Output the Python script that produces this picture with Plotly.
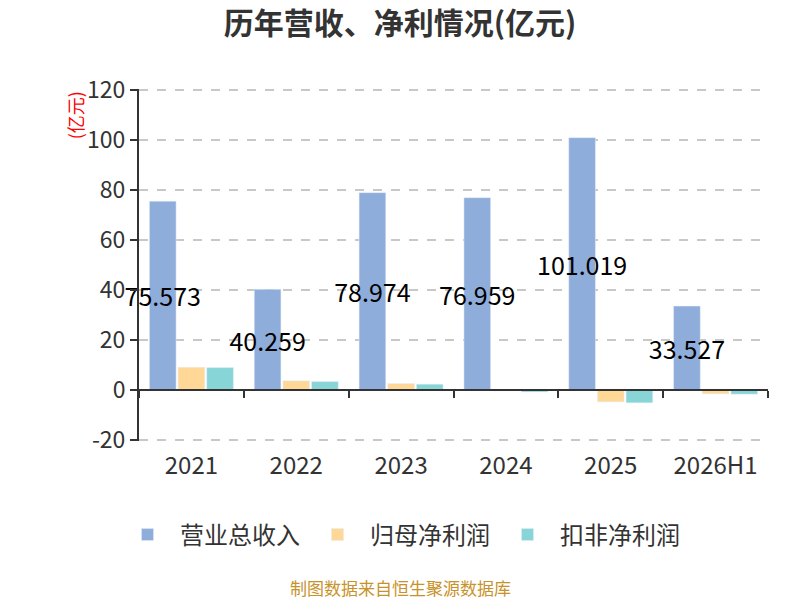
import plotly.graph_objects as go

years = ['2021', '2022', '2023', '2024', '2025', '2026H1']
revenue = [75.573, 40.259, 78.974, 76.959, 101.019, 33.527]
net_profit = [9.05, 3.6, 2.5, -0.45, -4.8, -1.6]
net_profit_deducted = [8.9, 3.3, 2.25, -0.85, -5.2, -1.75]
y_ticks = [-20, 0, 20, 40, 60, 80, 100, 120]
y_tick_text = ['-20', '0', '20', '40', '60', '80', '100', '120']

rev_color = '#8EADDB'
np_color = '#FFD796'
npd_color = '#88D5D8'
font_cjk = 'Noto Sans CJK SC'

# plot area: x 139..768, y (-20 at 440, 120 at 90), range padded so the edge gridlines show
y_lo, y_hi = -20.5, 120.5
px_per = 2.5
top = 90 - (y_hi - 120) * px_per
bottom = 440 + (-20 - y_lo) * px_per
plot_h = bottom - top

fig = go.Figure()
fig.add_trace(go.Bar(x=years, y=revenue, name='营业总收入', marker=dict(color=rev_color),
                     text=[f'{v:.3f}' for v in revenue], textposition='inside',
                     insidetextanchor='middle', textangle=0, constraintext='none',
                     cliponaxis=False, textfont=dict(size=25, color='#000')))
fig.add_trace(go.Bar(x=years, y=net_profit, name='归母净利润', marker=dict(color=np_color)))
fig.add_trace(go.Bar(x=years, y=net_profit_deducted, name='扣非净利润', marker=dict(color=npd_color)))
# invisible trace carrying the bottom category labels
fig.add_trace(go.Scatter(x=years, y=[0] * len(years), xaxis='x2', mode='markers',
                         marker=dict(opacity=0), showlegend=False, hoverinfo='skip'))

fig.update_layout(
    width=800, height=600,
    margin=dict(l=139, r=32, t=top, b=600 - bottom, autoexpand=False),
    plot_bgcolor='white', paper_bgcolor='white',
    font=dict(family=font_cjk, color='#333'),
    barmode='group', bargap=0.18, bargroupgap=0.07,
    title=dict(text='<b>历年营收、净利情况(亿元)</b>', x=0.5, xref='container', xanchor='center',
               y=1 - 23 / 600, yanchor='middle', font=dict(size=30, color='#333')),
    xaxis=dict(type='category', categoryorder='array', categoryarray=years, range=[-0.5, 5.5],
               anchor='free', position=(0 - y_lo) / (y_hi - y_lo), showline=True, linecolor='#333',
               linewidth=1.5, ticks='outside', tickson='boundaries', ticklen=7, tickwidth=2,
               tickcolor='#333', showticklabels=False, showgrid=False),
    xaxis2=dict(type='category', categoryorder='array', categoryarray=years, range=[-0.5, 5.5],
                overlaying='x', side='bottom', anchor='y', showline=False, ticks='',
                showgrid=False, ticklabelstandoff=8, tickfont=dict(size=24, color='#333')),
    yaxis=dict(range=[y_lo, y_hi], tickvals=y_ticks, ticktext=y_tick_text, showline=True,
               linecolor='#333', linewidth=2, ticks='outside', ticklen=7, tickwidth=2,
               tickcolor='#333', gridcolor='#C8C8C8', griddash='dash', gridwidth=1.5,
               zeroline=False, tickfont=dict(size=23, color='#333')),
    legend=dict(orientation='h', xref='container', yref='container', x=0.5, xanchor='center',
                y=1 - 535 / 600, yanchor='middle', itemwidth=55,
                font=dict(size=24, color='#333')),
)

fig.add_annotation(text='(亿元)', textangle=-90, xref='paper', yref='paper',
                   x=(75 - 139) / 629, y=(bottom - 115) / plot_h, xanchor='center',
                   yanchor='middle', showarrow=False, font=dict(size=18, color='red'))
fig.add_annotation(text='制图数据来自恒生聚源数据库', xref='paper', yref='paper',
                   x=(400 - 139) / 629, y=(bottom - 588) / plot_h, xanchor='center',
                   yanchor='middle', showarrow=False, font=dict(size=17, color='#C8922A'))

fig.write_html('out.html', config={'displayModeBar': False},
               post_script="document.body.style.margin='0';")
